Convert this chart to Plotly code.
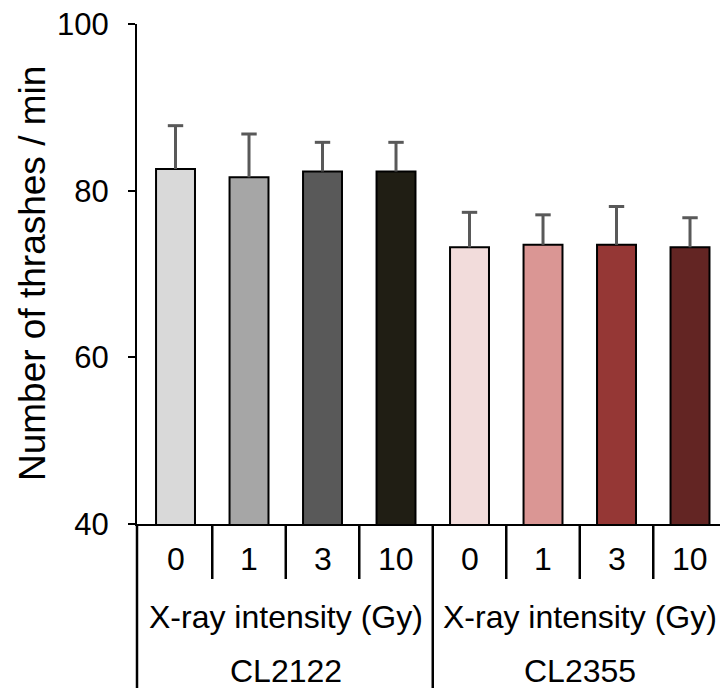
import plotly.graph_objects as go

doses = ["0", "1", "3", "10", "0", "1", "3", "10"]
means = [82.6, 81.6, 82.3, 82.3, 73.2, 73.5, 73.5, 73.2]
errors = [5.2, 5.2, 3.5, 3.5, 4.2, 3.6, 4.6, 3.55]
colors = ["#d9d9d9", "#a6a6a6", "#595959", "#201e14",
          "#f2dcdb", "#da9694", "#953735", "#632523"]
group_label = "X-ray intensity (Gy)"
strains = ["CL2122", "CL2355"]
yticks = [40, 60, 80, 100]

FONT = "Liberation Sans, Arial, sans-serif"
xs = list(range(len(means)))
ERR_COLOR = "#595959"

fig = go.Figure()
fig.add_trace(go.Bar(
    x=xs, y=means, width=0.53,
    marker=dict(color=colors, line=dict(color="black", width=2)),
    error_y=dict(type="data", array=errors, arrayminus=[0] * len(errors),
                 symmetric=False, color=ERR_COLOR, thickness=3, width=0),
    showlegend=False,
))
# caps only at the top of each error bar
fig.add_trace(go.Scatter(
    x=xs, y=[m + e for m, e in zip(means, errors)], mode="markers",
    marker=dict(symbol="line-ew", size=11, color=ERR_COLOR,
                line=dict(color=ERR_COLOR, width=3)),
    showlegend=False, hoverinfo="skip",
))

shapes = []
annotations = []
n_per = 4
for k in range(len(means) - 1):
    if (k + 1) % n_per == 0:
        continue
    shapes.append(dict(type="line", xref="x", yref="paper",
                       x0=k + 0.5, x1=k + 0.5, y0=0, y1=-0.11,
                       line=dict(color="black", width=2.5)))
for g in range(len(strains) + 1):
    xv = g * n_per - 0.5
    if g == 0:
        shapes.append(dict(type="line", xref="paper", yref="paper",
                           x0=0, x1=0, y0=0, y1=-0.34,
                           line=dict(color="black", width=2.5)))
    else:
        shapes.append(dict(type="line", xref="x", yref="paper",
                           x0=xv, x1=xv, y0=0, y1=-0.34,
                           line=dict(color="black", width=2.5)))

for i, d in enumerate(doses):
    annotations.append(dict(x=i, y=-0.07, xref="x", yref="paper", text=d,
                            showarrow=False, xanchor="center", yanchor="middle",
                            font=dict(size=32, color="black", family=FONT)))
for g, s in enumerate(strains):
    cx = g * n_per + (n_per - 1) / 2
    annotations.append(dict(x=cx, y=-0.186, xref="x", yref="paper", text=group_label,
                            showarrow=False, xanchor="center", yanchor="middle",
                            font=dict(size=32, color="black", family=FONT)))
    annotations.append(dict(x=cx, y=-0.293, xref="x", yref="paper", text=s,
                            showarrow=False, xanchor="center", yanchor="middle",
                            font=dict(size=32, color="black", family=FONT)))

annotations.append(dict(x=-0.18, y=0.5, xref="paper", yref="paper",
                        text="Number of thrashes / min", textangle=-90,
                        showarrow=False, xanchor="center", yanchor="middle",
                        font=dict(size=37, color="black", family=FONT)))

fig.update_layout(
    width=720, height=688,
    margin=dict(l=137, r=0, t=24, b=164),
    plot_bgcolor="white", paper_bgcolor="white",
    shapes=shapes, annotations=annotations,
    font=dict(family=FONT, color="black"),
    xaxis=dict(range=[-0.524, 7.408], showticklabels=False, showgrid=False,
               zeroline=False, showline=True, linecolor="black", linewidth=2,
               ticks=""),
    yaxis=dict(range=[40, 100], tickvals=yticks, showgrid=False, zeroline=False,
               showline=True, linecolor="black", linewidth=2,
               ticks="outside", ticklen=7, tickwidth=2, tickcolor="black",
               ticklabelstandoff=13,
               tickfont=dict(size=31, color="black", family=FONT)),
)

fig.write_html("out.html")
